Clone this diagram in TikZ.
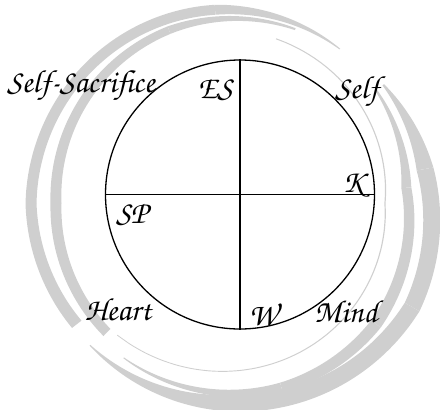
\documentclass[tikz,border=0pt]{standalone}
\usepackage{fontspec}
\newfontfamily\handfont{TeX Gyre Chorus}
\definecolor{swirlgray}{RGB}{207,207,207}
% one piece of the brush ring: angles, radii, widths (start, end)
\newcommand{\brushstroke}[6]{%
  \fill[swirlgray] plot[domain=0:1,samples=25,smooth]
    ({232+(#3+(#4-#3)*\x+(#5+(#6-#5)*\x)/2)*cos(#1+(#2-#1)*\x)},{203+(#3+(#4-#3)*\x+(#5+(#6-#5)*\x)/2)*sin(#1+(#2-#1)*\x)})
    -- plot[domain=1:0,samples=25,smooth]
    ({232+(#3+(#4-#3)*\x-(#5+(#6-#5)*\x)/2)*cos(#1+(#2-#1)*\x)},{203+(#3+(#4-#3)*\x-(#5+(#6-#5)*\x)/2)*sin(#1+(#2-#1)*\x)})
    -- cycle;}

\begin{document}
\begin{tikzpicture}[x=1pt,y=-1pt,
    hand/.style={font=\handfont\fontsize{32}{32}\selectfont, inner sep=0pt, anchor=base}]
  \useasboundingbox (0,0) rectangle (440,410);

  %swirl, outer left
  \brushstroke{305}{265}{188}{194}{1}{10}
  \brushstroke{265}{180}{194}{201}{10}{11}
  \brushstroke{180}{142}{201}{197}{11}{12}
  %swirl, inner left
  \brushstroke{290}{250}{185}{184}{2}{8}
  \brushstroke{250}{180}{184}{176}{8}{11}
  \brushstroke{180}{134}{176}{180}{11}{10}
  %swirl, outer right
  \brushstroke{322}{350}{192}{196}{2}{17}
  \brushstroke{350}{390}{196}{208}{17}{17}
  \brushstroke{390}{450}{208}{200}{17}{17}
  \brushstroke{450}{495}{200}{201}{17}{1}
  %swirl, inner right
  \brushstroke{322}{355}{183}{175}{2}{10}
  \brushstroke{355}{400}{175}{188}{10}{12}
  \brushstroke{400}{435}{188}{191}{12}{10}
  \brushstroke{435}{485}{191}{189}{10}{1}
  %swirl, thin line
  \brushstroke{285}{360}{170}{153}{1}{1.2}
  \brushstroke{360}{491}{153}{175}{1.2}{0.8}

  %wheel
  \node[draw, circle, minimum size=269pt, inner sep=0pt, line width=1.3pt] (wheel) at (240,194.5) {};
  \draw[line width=1.3pt] (wheel.north) -- (wheel.south);
  \draw[line width=1.3pt] (wheel.west) -- (wheel.east);

  %labels
  \node[hand] (selfsac) at (81,92) {Self-Sacrifice};
  \node[hand] (es) at (215,98) {ES};
  \node[hand] (self) at (357,98) {Self};
  \node[hand] (k) at (353,192) {K};
  \node[hand] (sp) at (132,223) {SP};
  \node[hand] (heart) at (118,320) {Heart};
  \node[hand] (w) at (263,325) {W};
  \node[hand] (mind) at (346,322) {Mind};
\end{tikzpicture}
\end{document}
